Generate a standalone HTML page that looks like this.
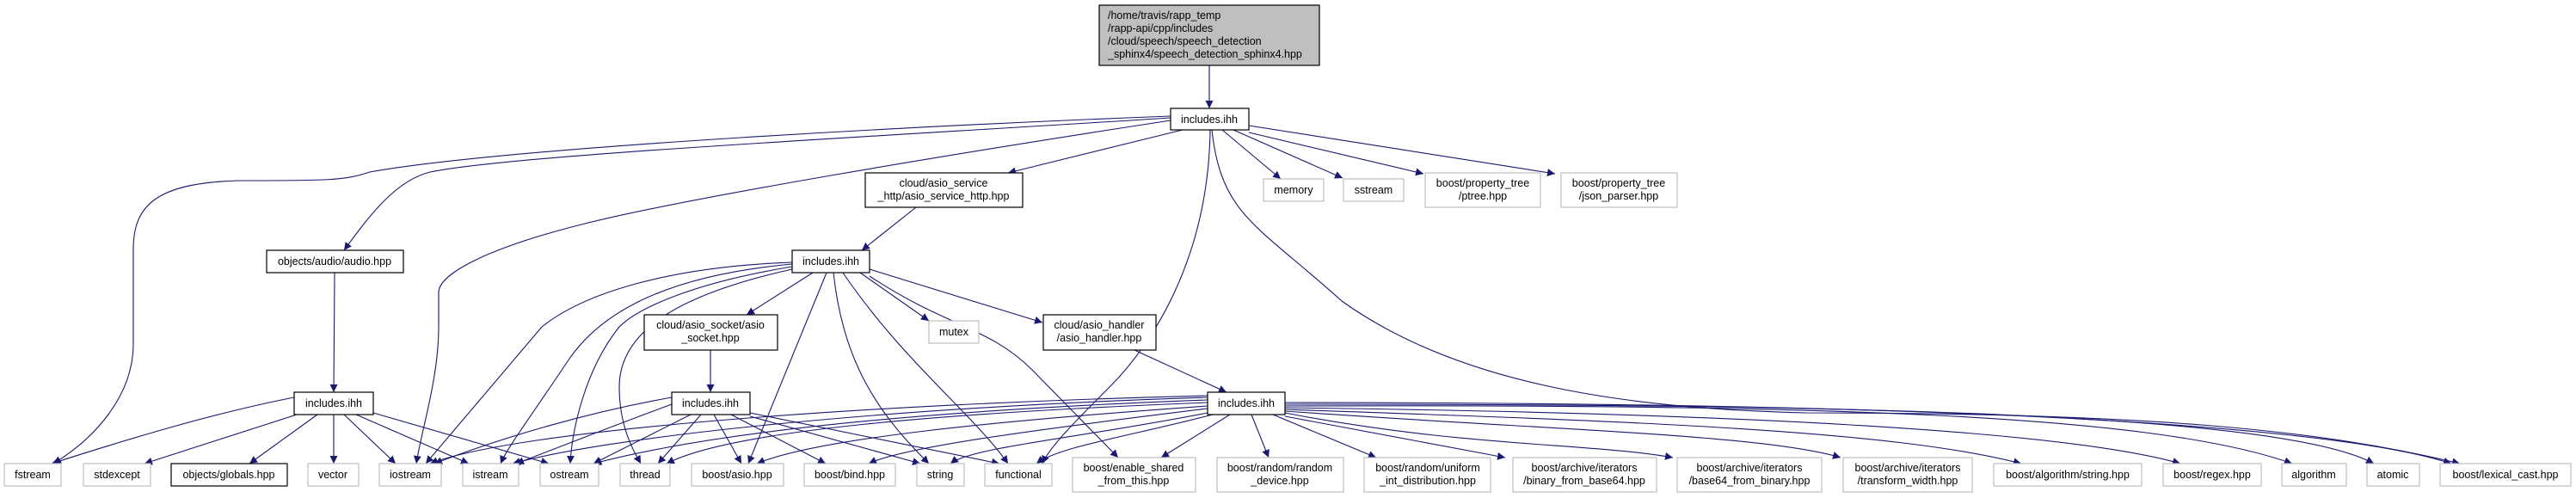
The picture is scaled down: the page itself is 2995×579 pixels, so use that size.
<!DOCTYPE html>
<html><head><meta charset="utf-8"><style>
html,body{margin:0;padding:0;background:#fff;}
svg{display:block;}
text{font-family:"Liberation Sans",sans-serif;font-size:12.5px;fill:#000;}
.e{fill:none;stroke:#191970;stroke-width:1.1;}
.n{fill:#fff;stroke:#000;stroke-width:1.2;}
.g{fill:#fff;stroke:#bfbfbf;stroke-width:1.2;}
</style></head><body>
<svg width="2995" height="579" viewBox="0 0 2995 579" xmlns="http://www.w3.org/2000/svg">
<defs><marker id="a" viewBox="0 0 10 10" refX="10" refY="5" markerWidth="9" markerHeight="9" markerUnits="userSpaceOnUse" orient="auto"><path d="M0,0 L10,5 L0,10 z" fill="#191970"/></marker></defs>
<g marker-end="url(#a)">
<!-- top -> I1 -->
<path class="e" d="M1406,76 L1406,126"/>
<!-- I1 edges -->
<path class="e" d="M1361,135 C1100,145 600,170 430,200 C400,210 380,210 280,210 C180,212 155,240 155,290 L155,400 C155,460 110,510 62,539"/>
<path class="e" d="M1361,137 C1000,160 600,180 500,200 C460,210 430,250 400,291"/>
<path class="e" d="M1361,140 C1100,180 800,230 680,260 C560,290 510,320 510,340 L510,380 C510,440 490,500 484,539"/>
<path class="e" d="M1375,151 L1172,201"/>
<path class="e" d="M1407,151 C1405,300 1340,400 1290,450 C1250,490 1220,520 1212,539"/>
<path class="e" d="M1421,151 L1489,208"/>
<path class="e" d="M1434,151 L1561,207"/>
<path class="e" d="M1452,154 L1655,202"/>
<path class="e" d="M1452,146 L1808,202"/>
<path class="e" d="M1409,151 C1420,250 1460,260 1560,350 C1700,450 1900,475 2100,480 C2500,480 2700,500 2860,539"/>
<!-- service -> I2 -->
<path class="e" d="M1065,241 L1002,291"/>
<!-- I2 edges -->
<path class="e" d="M945,317 L868,366"/>
<path class="e" d="M1000,317 L1080,373"/>
<path class="e" d="M1011,313 L1212,375"/>
<path class="e" d="M921,305 C780,310 680,340 630,380 L495,539"/>
<path class="e" d="M921,307 C780,320 700,360 660,420 C620,480 590,520 582,539"/>
<path class="e" d="M921,310 C800,330 740,360 720,380 C680,430 665,500 663,539"/>
<path class="e" d="M921,313 C800,340 720,380 720,450 C720,500 740,530 745,539"/>
<path class="e" d="M961,317 L870,539"/>
<path class="e" d="M969,317 C980,420 1020,480 1080,539"/>
<path class="e" d="M980,317 C1050,420 1130,480 1172,539"/>
<path class="e" d="M1011,321 C1100,380 1150,380 1200,430 L1300,532"/>
<!-- audio -> Iaudio -->
<path class="e" d="M389,317 L388,456"/>
<path class="e" d="M342,462 C250,480 150,510 60,539"/>
<path class="e" d="M345,482 L168,539"/>
<path class="e" d="M369,482 L290,539"/>
<path class="e" d="M388,482 L388,539"/>
<path class="e" d="M400,482 L460,539"/>
<path class="e" d="M414,482 L545,539"/>
<path class="e" d="M434,480 L638,539"/>
<!-- socket -> Isocket -->
<path class="e" d="M826,407 L826,456"/>
<path class="e" d="M781,462 C680,480 580,510 505,539"/>
<path class="e" d="M781,470 C700,500 650,520 600,539"/>
<path class="e" d="M803,482 L690,539"/>
<path class="e" d="M815,482 L765,539"/>
<path class="e" d="M830,482 L862,539"/>
<path class="e" d="M850,482 L960,539"/>
<path class="e" d="M872,484 L1070,539"/>
<path class="e" d="M872,480 L1162,539"/>
<!-- handler -> Ihandler -->
<path class="e" d="M1319,407 L1426,456"/>
<path class="e" d="M1404,460 C1000,470 600,500 500,539"/>
<path class="e" d="M1404,462 C1000,475 700,510 596,539"/>
<path class="e" d="M1404,465 C1000,480 800,510 690,539"/>
<path class="e" d="M1404,468 C1100,480 850,500 775,539"/>
<path class="e" d="M1404,472 C1150,490 950,510 880,539"/>
<path class="e" d="M1404,475 C1200,500 1050,520 1010,539"/>
<path class="e" d="M1404,480 C1250,510 1130,520 1105,539"/>
<path class="e" d="M1410,482 C1300,510 1230,520 1205,539"/>
<path class="e" d="M1430,482 L1350,532"/>
<path class="e" d="M1455,482 L1475,532"/>
<path class="e" d="M1480,482 L1600,532"/>
<path class="e" d="M1494,484 L1750,532"/>
<path class="e" d="M1494,480 C1700,520 1850,515 1945,532"/>
<path class="e" d="M1494,478 C1800,500 2050,505 2140,532"/>
<path class="e" d="M1494,476 C1900,490 2200,500 2350,539"/>
<path class="e" d="M1494,474 C2000,480 2400,500 2535,539"/>
<path class="e" d="M1494,472 C2100,470 2500,480 2665,539"/>
<path class="e" d="M1494,470 C2150,470 2650,480 2760,539"/>
<path class="e" d="M1494,468 C2200,468 2700,490 2850,539"/>
</g>

<!-- top node -->
<rect x="1278" y="6" width="256" height="70" fill="#bfbfbf" stroke="#000" stroke-width="1.2"/>
<text x="1288" y="22">/home/travis/rapp_temp</text>
<text x="1288" y="37">/rapp-api/cpp/includes</text>
<text x="1288" y="52">/cloud/speech/speech_detection</text>
<text x="1288" y="67">_sphinx4/speech_detection_sphinx4.hpp</text>

<g text-anchor="middle">
<rect class="n" x="1361" y="126" width="91" height="25"/><text x="1406" y="143">includes.ihh</text>
<rect class="n" x="1006" y="201" width="183" height="40"/><text x="1097" y="217">cloud/asio_service</text><text x="1097" y="232">_http/asio_service_http.hpp</text>
<rect class="g" x="1469" y="208" width="70" height="26"/><text x="1504" y="225">memory</text>
<rect class="g" x="1562" y="208" width="70" height="26"/><text x="1597" y="225">sstream</text>
<rect class="g" x="1657" y="201" width="134" height="40"/><text x="1724" y="217">boost/property_tree</text><text x="1724" y="232">/ptree.hpp</text>
<rect class="g" x="1815" y="201" width="135" height="40"/><text x="1882" y="217">boost/property_tree</text><text x="1882" y="232">/json_parser.hpp</text>

<rect class="n" x="310" y="291" width="159" height="26"/><text x="389" y="308">objects/audio/audio.hpp</text>
<rect class="n" x="921" y="291" width="90" height="26"/><text x="966" y="308">includes.ihh</text>
<rect class="n" x="749" y="366" width="155" height="41"/><text x="826" y="382">cloud/asio_socket/asio</text><text x="826" y="397">_socket.hpp</text>
<rect class="g" x="1080" y="373" width="58" height="26"/><text x="1109" y="390">mutex</text>
<rect class="n" x="1213" y="366" width="131" height="41"/><text x="1278" y="382">cloud/asio_handler</text><text x="1278" y="397">/asio_handler.hpp</text>

<rect class="n" x="342" y="456" width="92" height="26"/><text x="388" y="473">includes.ihh</text>
<rect class="n" x="781" y="456" width="91" height="26"/><text x="826" y="473">includes.ihh</text>
<rect class="n" x="1404" y="456" width="90" height="26"/><text x="1449" y="473">includes.ihh</text>

<rect class="g" x="5" y="539" width="66" height="26"/><text x="38" y="556">fstream</text>
<rect class="g" x="97" y="539" width="78" height="26"/><text x="136" y="556">stdexcept</text>
<rect class="n" x="199" y="539" width="135" height="26"/><text x="266" y="556">objects/globals.hpp</text>
<rect class="g" x="358" y="539" width="59" height="26"/><text x="387" y="556">vector</text>
<rect class="g" x="441" y="539" width="72" height="26"/><text x="477" y="556">iostream</text>
<rect class="g" x="538" y="539" width="65" height="26"/><text x="570" y="556">istream</text>
<rect class="g" x="628" y="539" width="68" height="26"/><text x="662" y="556">ostream</text>
<rect class="g" x="721" y="539" width="58" height="26"/><text x="750" y="556">thread</text>
<rect class="g" x="804" y="539" width="107" height="26"/><text x="857" y="556">boost/asio.hpp</text>
<rect class="g" x="935" y="539" width="106" height="26"/><text x="988" y="556">boost/bind.hpp</text>
<rect class="g" x="1066" y="539" width="55" height="26"/><text x="1093" y="556">string</text>
<rect class="g" x="1145" y="539" width="78" height="26"/><text x="1184" y="556">functional</text>
<rect class="g" x="1247" y="532" width="143" height="40"/><text x="1318" y="548">boost/enable_shared</text><text x="1318" y="563">_from_this.hpp</text>
<rect class="g" x="1415" y="532" width="147" height="40"/><text x="1488" y="548">boost/random/random</text><text x="1488" y="563">_device.hpp</text>
<rect class="g" x="1586" y="532" width="147" height="40"/><text x="1660" y="548">boost/random/uniform</text><text x="1660" y="563">_int_distribution.hpp</text>
<rect class="g" x="1759" y="532" width="167" height="40"/><text x="1842" y="548">boost/archive/iterators</text><text x="1842" y="563">/binary_from_base64.hpp</text>
<rect class="g" x="1950" y="532" width="168" height="40"/><text x="2034" y="548">boost/archive/iterators</text><text x="2034" y="563">/base64_from_binary.hpp</text>
<rect class="g" x="2143" y="532" width="150" height="40"/><text x="2218" y="548">boost/archive/iterators</text><text x="2218" y="563">/transform_width.hpp</text>
<rect class="g" x="2318" y="539" width="172" height="26"/><text x="2404" y="556">boost/algorithm/string.hpp</text>
<rect class="g" x="2515" y="539" width="114" height="26"/><text x="2572" y="556">boost/regex.hpp</text>
<rect class="g" x="2653" y="539" width="75" height="26"/><text x="2690" y="556">algorithm</text>
<rect class="g" x="2752" y="539" width="61" height="26"/><text x="2782" y="556">atomic</text>
<rect class="g" x="2837" y="539" width="152" height="26"/><text x="2913" y="556">boost/lexical_cast.hpp</text>
</g>
</svg>
</body></html>
